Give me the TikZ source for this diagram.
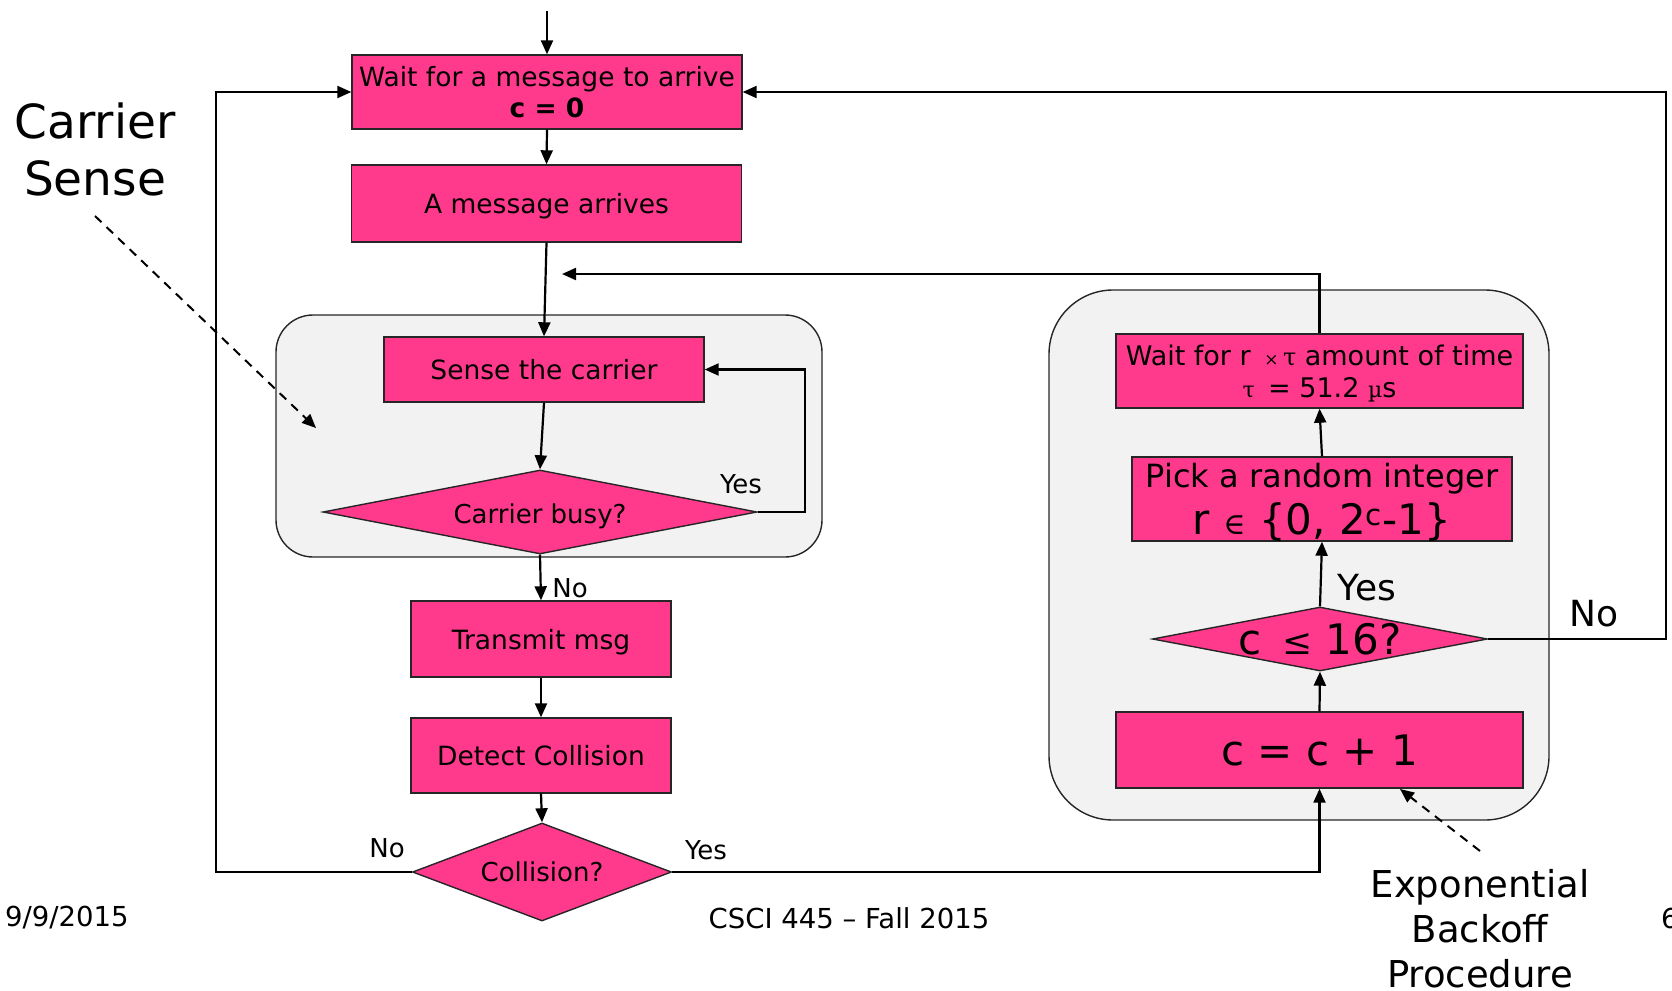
\documentclass[tikz,border=0pt]{standalone}
\usepackage{fontspec}
\setmainfont{DejaVu Sans}
\newfontfamily\symfont{DejaVu Serif}
\usetikzlibrary{shapes.geometric,arrows.meta,calc}
\definecolor{hotpink}{RGB}{255,58,140}
\definecolor{panelgray}{RGB}{242,242,242}
% a symbol set in a serif face at a given size
\newcommand\symat[2]{{\symfont\fontsize{#1}{#1}\selectfont #2}}
\begin{document}
\begin{tikzpicture}[x=1pt,y=-1pt,
  flow/.style={draw=black, line width=2.2pt, -{Triangle[length=14pt,width=12pt]}},
  stepbox/.style={draw=black!85, line width=1.4pt, fill=hotpink, inner sep=0pt, align=center,
    text depth=0pt, font=\fontsize{26.5}{31}\selectfont},
  decision/.style={diamond, draw=black!85, line width=1.4pt, fill=hotpink, inner sep=0pt},
  decisiontext/.style={text depth=0pt, font=\fontsize{26}{31}\selectfont},
  panel/.style={draw=black!85, line width=1.4pt, fill=panelgray, inner sep=0pt},
  note/.style={font=\fontsize{26}{31}\selectfont},
  bignote/.style={font=\fontsize{36}{43}\selectfont},
  footer/.style={font=\fontsize{27.5}{33}\selectfont, inner sep=0pt},
  pointer/.style={draw=black, line width=2pt, dash pattern=on 9pt off 7pt,
    -{Triangle[length=14pt,width=12pt]}},
]
\useasboundingbox (0,0) rectangle (1672,990);

% grey panels behind the two loops
\node[panel, rounded corners=37pt, minimum width=546pt, minimum height=242pt] (sensepanel) at (549,436) {};
\node[panel, rounded corners=64pt, minimum width=500pt, minimum height=530pt] (backoffpanel) at (1299,555) {};

% main transmit path
\node[stepbox, minimum width=390pt, minimum height=74pt] (idle) at (547,92)
  {Wait for a message to arrive\\\textbf{c = 0}};
\node[stepbox, minimum width=390pt, minimum height=77pt] (arrive) at (546.5,203.5) {A message arrives};
\node[stepbox, minimum width=320pt, minimum height=65pt] (sense) at (544,369.5) {Sense the carrier};
\node[decision, minimum width=434pt, minimum height=84pt,
  label={[decisiontext, yshift=-2pt]center:Carrier busy?}] (busy) at (540,512) {};
\node[stepbox, minimum width=260pt, minimum height=76pt] (tx) at (541,639) {Transmit msg};
\node[stepbox, minimum width=260pt, minimum height=75pt] (detect) at (541,755.5) {Detect Collision};
\node[decision, minimum width=259pt, minimum height=98pt,
  label={[decisiontext]center:Collision?}] (coll) at (542,872) {};

% backoff procedure
\node[stepbox, minimum width=407pt, minimum height=74pt, font=\fontsize{27}{32}\selectfont] (backoff) at (1319.5,371)
  {Wait for r\enspace\symat{17}{×}\,\symat{24}{τ} amount of time\\\symat{22}{τ}\enspace= 51.2 \symat{22}{µ}s};
\node[stepbox, minimum width=380pt, minimum height=84pt, font=\fontsize{32}{40}\selectfont] (pick) at (1322,499)
  {Pick a random integer\\[7pt]{\fontsize{42}{40}\selectfont r \symat{30}{∈} \{0, 2\textsuperscript{c}-1\}}};
\node[decision, minimum width=335pt, minimum height=64pt,
  label={[text depth=0pt, font=\fontsize{42}{50}\selectfont]center:{c\enspace\symat{36}{≤} 16?}}] (limit) at (1320,639) {};
\node[stepbox, minimum width=407pt, minimum height=76pt, font=\fontsize{42}{50}\selectfont] (incr) at (1319.5,750)
  {c = c + 1};

% branch labels
\node[note] (busyyes) at (741,484) {Yes};
\node[note] (busyno) at (570,588) {No};
\node[note] (collno) at (387,848) {No};
\node[note] (collyes) at (706,850) {Yes};
\node[bignote] (limyes) at (1367,588) {Yes};
\node[bignote] (limno) at (1594,614) {No};

% annotations
\node[align=center, font=\fontsize{47}{57}\selectfont] (cslabel) at (95,149) {Carrier\\Sense};
\node[align=center, font=\fontsize{37}{45}\selectfont] (eblabel) at (1480,929) {Exponential\\Backoff\\Procedure};

% footer
\node[footer, anchor=west] (date) at (5,918) {9/9/2015};
\node[footer] (course) at (849,918) {CSCI 445 – Fall 2015};
\node[footer, anchor=west] (page) at (1661,918) {6};

% routing points
\coordinate (entry) at (547,11);
\coordinate (leftrail) at (216,0);
\coordinate (yesrail) at (805,0);
\coordinate (rightrail) at (1666,0);
\coordinate (retry) at (562,274);
\coordinate (cstail) at (95,216);
\coordinate (cshead) at (316,428);
\coordinate (ebtail) at (1480,851);
\coordinate (ebhead) at (1400,789);

% connectors
\draw[flow] (entry) -- (idle.north);
\draw[flow] (idle.south) -- (arrive.north);
\draw[flow] (arrive.south) -- (sense.north);
\draw[flow] (sense.south) -- (busy.north);
\draw[flow] (busy.east) -| (yesrail |- sense.east) -- (sense.east);
\draw[flow] (busy.south) -- (tx.north);
\draw[flow] (tx.south) -- (detect.north);
\draw[flow] (detect.south) -- (coll.north);
\draw[flow] (coll.west) -| (leftrail |- idle.west) -- (idle.west);
\draw[flow] (coll.east) -| (incr.south);
\draw[flow] (incr.north) -- (limit.south);
\draw[flow] (limit.north) -- (pick.south);
\draw[flow] (pick.north) -- (backoff.south);
\draw[flow] (backoff.north) |- (retry);
\draw[flow] (limit.east) -| (rightrail |- idle.east) -- (idle.east);
\draw[pointer] (cstail) -- (cshead);
\draw[pointer] (ebtail) -- (ebhead);
\end{tikzpicture}
\end{document}
